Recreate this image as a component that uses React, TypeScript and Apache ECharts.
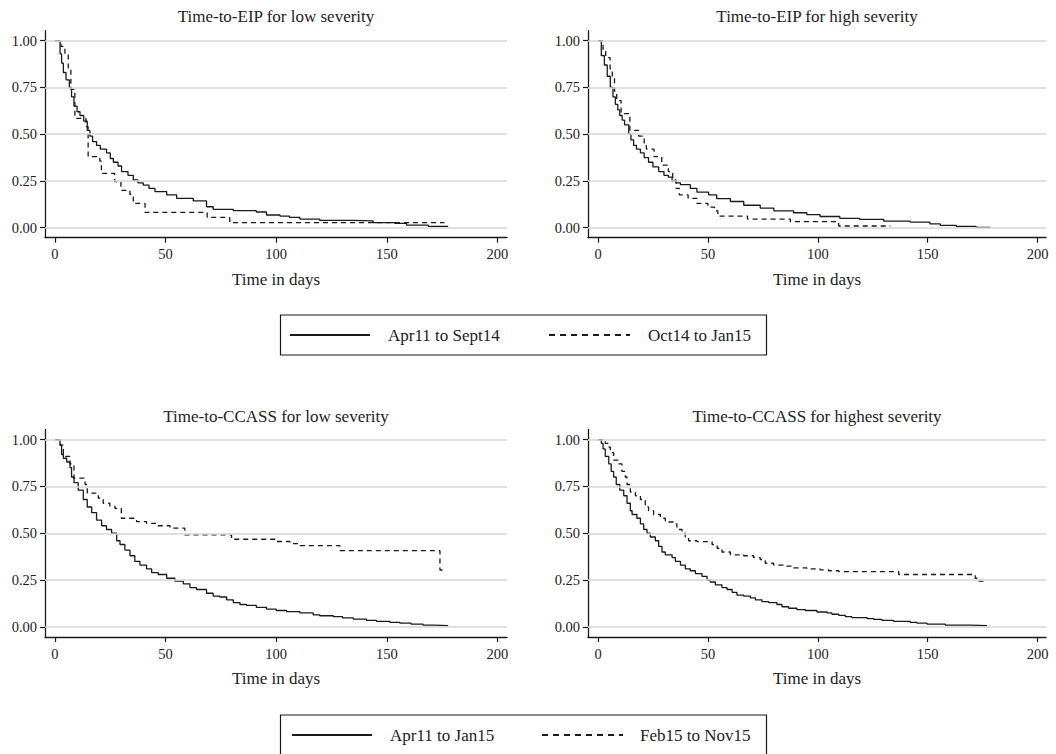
import React, { useEffect, useRef } from 'react';
import * as echarts from 'echarts';

const FONT = '"Liberation Serif", "Times New Roman", serif';

// ---- texts ----
const panelTitles = [
  'Time-to-EIP for low severity',
  'Time-to-EIP for high severity',
  'Time-to-CCASS for low severity',
  'Time-to-CCASS for highest severity',
];
const xAxisTitle = 'Time in days';
const xTicks = [0, 50, 100, 150, 200];
const yTicks = [0, 0.25, 0.5, 0.75, 1];
const legendTop = ['Apr11 to Sept14', 'Oct14 to Jan15'];
const legendBottom = ['Apr11 to Jan15', 'Feb15 to Nov15'];

// ---- Kaplan-Meier step data: [day, survival] ----
const eipLowEarly = [
  [0, 1], [2.3, 0.93], [3.0, 0.88], [3.8, 0.83], [5.0, 0.79], [6.5, 0.75], [7.5, 0.7], [8.6, 0.65],
  [10.0, 0.62], [11.3, 0.6], [13.0, 0.57], [14.6, 0.52], [15.8, 0.49], [17.0, 0.46], [18.8, 0.44],
  [20.5, 0.42], [23.3, 0.4], [25.0, 0.37], [26.4, 0.35], [28.5, 0.33], [30.1, 0.3], [33.0, 0.28],
  [35.4, 0.255], [37.5, 0.24], [39.9, 0.228], [42.5, 0.21], [45.2, 0.193], [50.5, 0.175], [55.0, 0.157],
  [62.5, 0.143], [68.5, 0.112], [71.5, 0.098], [80.6, 0.091], [91.0, 0.084], [95.6, 0.068],
  [101.7, 0.062], [106.0, 0.055], [110.7, 0.046], [119.7, 0.039], [134.8, 0.036], [143.8, 0.027],
  [153.6, 0.023], [158.9, 0.014], [168.7, 0.007], [177.7, 0.007],
];
const eipLowLate = [
  [0, 1], [2.7, 0.97], [4.5, 0.93], [6.0, 0.85], [7.2, 0.74], [9.0, 0.585], [14.0, 0.54], [15.0, 0.38],
  [20.3, 0.356], [21.0, 0.29], [27.0, 0.246], [29.8, 0.2], [33.9, 0.178], [35.4, 0.13], [40.7, 0.082],
  [68.8, 0.055], [79.0, 0.027], [176.0, 0.027],
];
const eipHighEarly = [
  [0, 1], [1.5, 0.92], [2.9, 0.87], [4.2, 0.81], [5.6, 0.75], [6.8, 0.7], [7.9, 0.66], [9.0, 0.63],
  [9.9, 0.6], [11.0, 0.575], [12.1, 0.55], [14.0, 0.5], [15.0, 0.47], [16.2, 0.44], [17.5, 0.42],
  [19.3, 0.4], [21.0, 0.375], [23.0, 0.35], [25.0, 0.325], [27.6, 0.3], [30.0, 0.28], [32.0, 0.27],
  [33.7, 0.25], [35.5, 0.24], [37.5, 0.23], [42.0, 0.21], [45.0, 0.19], [50.3, 0.175], [54.0, 0.155],
  [60.2, 0.14], [66.3, 0.12], [73.8, 0.105], [80.0, 0.09], [89.0, 0.08], [95.0, 0.07], [101.0, 0.06],
  [110.0, 0.05], [119.0, 0.045], [130.0, 0.035], [142.0, 0.03], [151.0, 0.02], [155.7, 0.012],
  [163.0, 0.007], [172.0, 0.002], [178.5, 0.002],
];
const eipHighLate = [
  [0, 1], [2.3, 0.95], [3.5, 0.91], [5.5, 0.85], [6.5, 0.8], [7.5, 0.73], [8.5, 0.68], [10.5, 0.61],
  [14.5, 0.52], [18.5, 0.49], [21.0, 0.45], [22.0, 0.42], [25.5, 0.38], [29.0, 0.335], [32.0, 0.3],
  [34.0, 0.255], [35.5, 0.21], [37.0, 0.175], [41.0, 0.157], [45.0, 0.13], [50.0, 0.11], [53.0, 0.09],
  [54.5, 0.062], [68.0, 0.046], [87.5, 0.032], [109.5, 0.009], [133.0, 0.009],
];
const ccassLowEarly = [
  [0, 1], [2.3, 0.97], [3.0, 0.92], [3.8, 0.9], [5.3, 0.88], [6.8, 0.85], [7.5, 0.8], [8.6, 0.77],
  [10.5, 0.73], [12.8, 0.68], [14.6, 0.64], [16.6, 0.61], [18.8, 0.57], [21.1, 0.54], [23.3, 0.52],
  [25.6, 0.5], [27.9, 0.46], [29.4, 0.44], [31.6, 0.41], [33.9, 0.38], [36.1, 0.35], [38.4, 0.33],
  [41.4, 0.31], [43.7, 0.29], [46.7, 0.28], [50.5, 0.26], [54.2, 0.245], [58.0, 0.23], [61.0, 0.21],
  [64.0, 0.2], [68.5, 0.18], [71.5, 0.165], [74.5, 0.16], [77.6, 0.145], [80.6, 0.13], [83.6, 0.12],
  [86.6, 0.115], [91.0, 0.105], [95.6, 0.095], [100.0, 0.088], [104.7, 0.082], [110.7, 0.075],
  [116.7, 0.065], [119.7, 0.06], [125.8, 0.055], [130.0, 0.048], [134.8, 0.042], [140.8, 0.035],
  [145.3, 0.03], [151.4, 0.025], [155.9, 0.02], [161.0, 0.015], [166.4, 0.01], [171.0, 0.007],
  [177.7, 0.007],
];
const ccassLowLate = [
  [0, 1], [2.3, 0.97], [3.8, 0.91], [6.8, 0.87], [8.6, 0.794], [13.6, 0.76], [14.6, 0.714],
  [19.6, 0.687], [21.8, 0.66], [24.8, 0.645], [27.1, 0.633], [30.0, 0.58], [36.9, 0.562],
  [41.4, 0.553], [45.9, 0.54], [52.0, 0.527], [58.7, 0.491], [79.8, 0.468], [100.2, 0.456],
  [106.2, 0.445], [110.7, 0.434], [128.8, 0.407], [174.0, 0.304], [176.0, 0.304],
];
const ccassHighEarly = [
  [0, 1], [1.5, 0.98], [2.3, 0.95], [3.3, 0.91], [4.9, 0.87], [6.0, 0.83], [7.1, 0.8], [8.3, 0.76],
  [9.9, 0.73], [11.7, 0.7], [13.2, 0.66], [14.7, 0.62], [15.5, 0.6], [17.7, 0.58], [19.3, 0.55],
  [20.8, 0.52], [22.3, 0.5], [23.8, 0.48], [26.1, 0.46], [27.6, 0.43], [29.1, 0.4], [30.6, 0.385],
  [33.7, 0.37], [35.2, 0.35], [37.5, 0.33], [39.7, 0.31], [42.0, 0.3], [44.3, 0.285], [47.3, 0.27],
  [49.6, 0.25], [51.1, 0.24], [53.4, 0.225], [56.4, 0.21], [58.7, 0.2], [61.0, 0.185], [63.2, 0.17],
  [66.3, 0.165], [69.3, 0.155], [71.6, 0.145], [74.6, 0.135], [77.6, 0.13], [81.4, 0.12],
  [83.7, 0.108], [86.7, 0.1], [90.5, 0.093], [94.3, 0.088], [99.6, 0.08], [104.2, 0.075],
  [106.4, 0.068], [109.5, 0.062], [112.5, 0.055], [115.5, 0.05], [122.4, 0.045], [125.4, 0.04],
  [129.2, 0.035], [134.5, 0.03], [142.0, 0.025], [145.1, 0.02], [149.7, 0.015], [158.0, 0.01],
  [169.4, 0.007], [177.0, 0.007],
];
const ccassHighLate = [
  [0, 1], [2.3, 0.99], [3.3, 0.98], [4.5, 0.96], [5.6, 0.93], [7.1, 0.89], [9.4, 0.87], [10.9, 0.83],
  [12.4, 0.8], [13.2, 0.76], [14.7, 0.72], [17.0, 0.7], [19.3, 0.68], [21.5, 0.64], [23.0, 0.62],
  [25.3, 0.6], [28.4, 0.58], [30.6, 0.56], [34.4, 0.55], [35.9, 0.52], [38.2, 0.5], [39.7, 0.48],
  [41.2, 0.46], [45.0, 0.455], [51.9, 0.44], [54.2, 0.42], [56.4, 0.4], [60.2, 0.385], [66.3, 0.38],
  [70.8, 0.37], [73.8, 0.36], [76.1, 0.34], [79.9, 0.33], [85.2, 0.325], [89.0, 0.315], [95.0, 0.31],
  [101.0, 0.305], [104.9, 0.3], [109.5, 0.295], [136.8, 0.28], [171.6, 0.26], [173.0, 0.245],
  [176.0, 0.245],
];

const panels = [
  { early: eipLowEarly, late: eipLowLate, names: legendTop },
  { early: eipHighEarly, late: eipHighLate, names: legendTop },
  { early: ccassLowEarly, late: ccassLowLate, names: legendBottom },
  { early: ccassHighEarly, late: ccassHighLate, names: legendBottom },
];

// ---- layout ----
const grids = [
  { left: 45, top: 30.7, width: 462, height: 207 },
  { left: 588, top: 30.7, width: 458, height: 207 },
  { left: 45, top: 429.5, width: 462, height: 207.5 },
  { left: 588, top: 429.5, width: 458, height: 207.5 },
];
const xRanges = [
  [-4.5, 204.3],
  [-4.55, 203.8],
  [-4.5, 204.3],
  [-4.55, 203.8],
];
const titleTops = [8, 8, 407.5, 407.5];
const INK = '#1a1a1a';
const TXT = '#222';

export default function App() {
  const ref = useRef<HTMLDivElement>(null);
  useEffect(() => {
    if (!ref.current) return;
    const chart = echarts.init(ref.current, undefined, { renderer: 'svg' });

    const xAxis = grids.map((g, i) => ({
      type: 'value',
      gridIndex: i,
      min: xRanges[i][0],
      max: xRanges[i][1],
      axisLine: { show: true, onZero: false, lineStyle: { color: INK, width: 1.3 } },
      axisTick: { show: true, customValues: xTicks, length: 5, lineStyle: { color: INK, width: 1.2 } },
      axisLabel: {
        customValues: xTicks,
        fontFamily: FONT,
        fontSize: 14.5,
        color: TXT,
        margin: 9,
      },
      splitLine: { show: false },
      name: xAxisTitle,
      nameLocation: 'middle',
      nameGap: 33,
      nameTextStyle: { fontFamily: FONT, fontSize: 17, color: TXT },
    }));
    const yAxis = grids.map((g, i) => ({
      type: 'value',
      gridIndex: i,
      min: -0.0535,
      max: 1.0535,
      axisLine: { show: true, onZero: false, lineStyle: { color: INK, width: 1.3 } },
      axisTick: { show: true, customValues: yTicks, length: 5, lineStyle: { color: INK, width: 1.2 } },
      axisLabel: {
        customValues: yTicks,
        formatter: (v: number) => v.toFixed(2),
        fontFamily: FONT,
        fontSize: 14.5,
        color: TXT,
        margin: 8,
      },
      splitLine: { show: false },
    }));

    const series: any[] = [];
    panels.forEach((p, i) => {
      series.push({
        type: 'line',
        xAxisIndex: i,
        yAxisIndex: i,
        data: [[0, 0]],
        symbol: 'none',
        silent: true,
        z: 1,
        lineStyle: { opacity: 0 },
        markLine: {
          silent: true,
          symbol: ['none', 'none'],
          label: { show: false },
          lineStyle: { color: '#d6d6d6', width: 1.5, type: 'solid' },
          data: yTicks.map((v) => ({ yAxis: v })),
        },
      });
      series.push({
        name: p.names[0],
        type: 'line',
        xAxisIndex: i,
        yAxisIndex: i,
        step: 'end',
        symbol: 'none',
        z: 3,
        data: p.early,
        lineStyle: { color: INK, width: 1.3, type: 'solid' },
      });
      series.push({
        name: p.names[1],
        type: 'line',
        xAxisIndex: i,
        yAxisIndex: i,
        step: 'end',
        symbol: 'none',
        z: 3,
        data: p.late,
        lineStyle: { color: INK, width: 1.3, type: [5, 4] },
      });
    });

    const legendBox = (y: number, h: number, lineY: number, names: string[], xs: number[]) => [
      {
        type: 'rect',
        shape: { x: 280.5, y, width: 486, height: h },
        style: { fill: '#fff', stroke: INK, lineWidth: 1.2 },
      },
      {
        type: 'line',
        shape: { x1: xs[0], y1: lineY, x2: xs[1], y2: lineY },
        style: { stroke: INK, lineWidth: 2 },
      },
      {
        type: 'text',
        x: xs[2],
        y: lineY,
        style: { text: names[0], fontFamily: FONT, fontSize: 17, fill: TXT, verticalAlign: 'middle' },
      },
      {
        type: 'line',
        shape: { x1: xs[3], y1: lineY, x2: xs[4], y2: lineY },
        style: { stroke: INK, lineWidth: 2, lineDash: [6, 5] },
      },
      {
        type: 'text',
        x: xs[5],
        y: lineY,
        style: { text: names[1], fontFamily: FONT, fontSize: 17, fill: TXT, verticalAlign: 'middle' },
      },
    ];

    chart.setOption({
      animation: false,
      backgroundColor: '#fff',
      title: panelTitles.map((t, i) => ({
        text: t,
        left: grids[i].left + grids[i].width / 2,
        top: titleTops[i],
        textAlign: 'center',
        padding: 0,
        textStyle: { fontFamily: FONT, fontSize: 17, fontWeight: 'normal', color: TXT },
      })),
      grid: grids.map((g) => ({ ...g, containLabel: false })),
      xAxis,
      yAxis,
      series,
      graphic: [
        ...legendBox(315, 40, 335, legendTop, [290, 370, 388, 549, 630, 648]),
        ...legendBox(715, 42, 735, legendBottom, [292, 372, 390, 542, 623, 640]),
      ],
    });
    return () => chart.dispose();
  }, []);
  return (
    <div
      ref={ref}
      style={{ position: 'fixed', left: 0, top: 0, width: 1056, height: 754, background: '#fff' }}
    />
  );
}
